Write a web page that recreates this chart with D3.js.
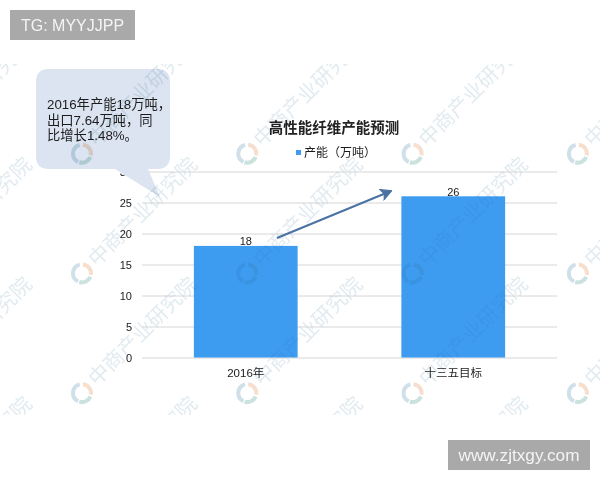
<!DOCTYPE html>
<html>
<head>
<meta charset="utf-8">
<script src="https://cdn.jsdelivr.net/npm/d3@7"></script>
<style>
  html, body { margin: 0; padding: 0; background: #fff; }
  svg { display: block; }
  text { font-family: "Liberation Sans", "Noto Sans CJK SC", sans-serif; }
</style>
</head>
<body>
<div id="chart"></div>
<script>
const categories = ["2016年", "十三五目标"]
const capacity = [18, 26]
const yTicks = [0, 5, 10, 15, 20, 25, 30]
const chartTitle = "高性能纤维产能预测"
const legendLabel = "产能（万吨）"
const calloutLines = ["2016年产能18万吨，", "出口7.64万吨，同", "比增长1.48%。"]
const watermarkLabel = "中商产业研究院"
const tagLabel = "TG: MYYJJPP"
const siteLabel = "www.zjtxgy.com"

const COLORS = {
    BAR: "#3d9bf0",
    GRID: "#d6d6d6",
    TEXT: "#1a1a1a",
    CALLOUT: "#dbe4f0",
    ARROW: "#4a72a3",
    BADGE: "#a9a9a9",
    BADGE_TEXT: "#f4f4f4",
    WATERMARK: "#e2ebf0"
}

const width = 600, height = 480
const margin = {top: 171.5, right: 43, bottom: 122.5, left: 142}
const calloutPath = "M49,69 H157 Q170,69 170,82 V156 Q170,169 157,169 H148 L160,197 L115,169 H49 Q36,169 36,156 V82 Q36,69 49,69 Z"

const svg = d3.select("#chart").append("svg")
    .attr("width", width)
    .attr("height", height)
const defs = svg.append("defs")

const x = d3.scaleBand()
    .domain(categories)
    .range([margin.left, width - margin.right])
    .paddingInner(0.5)
    .paddingOuter(0.25)

const y = d3.scaleLinear()
    .domain([0, 30])
    .range([height - margin.bottom, margin.top])

// clip areas for the watermark
defs.append("clipPath")
    .attr("id", "photo-clip")
    .append("rect")
    .attr("x", 0)
    .attr("y", 64)
    .attr("width", width)
    .attr("height", 351)

defs.append("clipPath")
    .attr("id", "callout-clip")
    .append("path")
    .attr("d", calloutPath)

defs.append("clipPath")
    .attr("id", "bars-clip")
    .selectAll("rect")
    .data(capacity)
    .join("rect")
    .attr("x", (d, i) => x(categories[i]))
    .attr("y", d => y(d))
    .attr("width", x.bandwidth())
    .attr("height", d => y(0) - y(d))

const logoArc = d3.arc().innerRadius(7).outerRadius(11)
const logoParts = [
    {start: -2.7, end: -0.25, color: "#d0e0e9"},
    {start: 0.1, end: 1.75, color: "#f6dfcf"},
    {start: 1.95, end: 3.45, color: "#cbe2de"}
]
const tileCols = d3.range(-1, 4)
const tileRows = d3.range(0, 5)

function drawWatermark(clipId, opacity) {
    const layer = svg.append("g")
        .attr("clip-path", `url(#${clipId})`)
        .style("mix-blend-mode", "multiply")
        .attr("opacity", opacity)
        .style("filter", "blur(0.4px)")

    const mark = layer.selectAll("g")
        .data(d3.cross(tileCols, tileRows))
        .join("g")
        .attr("transform", ([c, r]) => `translate(${82 + c * 165.3},${34 + r * 119.7})`)

    mark.selectAll("path")
        .data(logoParts)
        .join("path")
        .attr("d", d => logoArc({startAngle: d.start, endAngle: d.end}))
        .attr("fill", d => d.color)

    mark.append("text")
        .attr("transform", "translate(15,-6) rotate(-45)")
        .attr("fill", COLORS.WATERMARK)
        .style("font-size", "20.5px")
        .style("font-family", '"Noto Sans CJK SC", sans-serif')
        .text(watermarkLabel)
}

drawWatermark("photo-clip", 1)

// grid lines + y labels
const yAxis = d3.axisLeft(y)
    .tickValues(yTicks)
    .tickSize(-(width - margin.left - margin.right))
    .tickPadding(10)

const yG = svg.append("g")
    .attr("transform", `translate(${margin.left},0)`)
    .call(yAxis)
yG.select(".domain").remove()
yG.selectAll(".tick line").attr("stroke", COLORS.GRID).attr("stroke-width", 1)
yG.selectAll(".tick text")
    .attr("fill", COLORS.TEXT)
    .style("font-size", "11px")
    .style("font-family", '"Liberation Sans", sans-serif')

const xAxis = d3.axisBottom(x).tickSize(0).tickPadding(11)
const xG = svg.append("g")
    .attr("transform", `translate(0,${height - margin.bottom})`)
    .call(xAxis)
xG.select(".domain").remove()
xG.selectAll(".tick text")
    .attr("fill", COLORS.TEXT)
    .style("font-size", "11.5px")
    .style("font-family", '"Liberation Sans", "Noto Sans CJK SC", sans-serif')

// bars
svg.selectAll("rect.bar")
    .data(capacity)
    .join("rect")
    .attr("class", "bar")
    .attr("x", (d, i) => x(categories[i]))
    .attr("y", d => y(d))
    .attr("width", x.bandwidth())
    .attr("height", d => y(0) - y(d))
    .attr("fill", COLORS.BAR)

drawWatermark("bars-clip", 0.45)

svg.selectAll("text.bar-label")
    .data(capacity)
    .join("text")
    .attr("class", "bar-label")
    .attr("x", (d, i) => x(categories[i]) + x.bandwidth() / 2)
    .attr("y", d => y(d) - 0.5)
    .attr("text-anchor", "middle")
    .attr("fill", COLORS.TEXT)
    .style("font-size", "11px")
    .text(d => d)

// title + legend
svg.append("text")
    .attr("x", 334)
    .attr("y", 133)
    .attr("text-anchor", "middle")
    .attr("fill", "#222")
    .style("font-size", "14.5px")
    .style("font-weight", "bold")
    .text(chartTitle)

svg.append("rect")
    .attr("x", 296)
    .attr("y", 150)
    .attr("width", 5)
    .attr("height", 5)
    .attr("fill", COLORS.BAR)

svg.append("text")
    .attr("x", 304)
    .attr("y", 157)
    .attr("fill", COLORS.TEXT)
    .style("font-size", "12px")
    .text(legendLabel)

// trend arrow
defs.append("marker")
    .attr("id", "arrow-head")
    .attr("viewBox", "0 0 10 10")
    .attr("refX", 9)
    .attr("refY", 5)
    .attr("markerUnits", "userSpaceOnUse")
    .attr("markerWidth", 12)
    .attr("markerHeight", 12)
    .attr("orient", "auto")
    .append("path")
    .attr("d", "M1,0.5 L9.5,5 L1,9.5 L3,5 Z")
    .attr("fill", COLORS.ARROW)
    .attr("stroke", COLORS.ARROW)
    .attr("stroke-width", 1)

svg.append("line")
    .attr("x1", 277)
    .attr("y1", 238)
    .attr("x2", 391)
    .attr("y2", 191)
    .attr("stroke", COLORS.ARROW)
    .attr("stroke-width", 2)
    .attr("marker-end", "url(#arrow-head)")

// speech bubble, covers the 30 tick like in the source image
svg.append("path")
    .attr("d", calloutPath)
    .attr("fill", COLORS.CALLOUT)

drawWatermark("callout-clip", 1)

svg.append("g").selectAll("text")
    .data(calloutLines)
    .join("text")
    .attr("x", 47)
    .attr("y", (d, i) => 109 + i * 15.7)
    .attr("fill", "#1c1c1c")
    .style("font-size", "13.3px")
    .text(d => d)

// badges
function badge(bx, by, bw, bh, label, size) {
    svg.append("rect")
        .attr("x", bx)
        .attr("y", by)
        .attr("width", bw)
        .attr("height", bh)
        .attr("fill", COLORS.BADGE)
    svg.append("text")
        .attr("x", bx + bw / 2)
        .attr("y", by + bh / 2)
        .attr("dy", "0.36em")
        .attr("text-anchor", "middle")
        .attr("fill", COLORS.BADGE_TEXT)
        .style("font-size", size + "px")
        .text(label)
}
badge(10, 10, 125, 30, tagLabel, 16)
badge(448, 440, 142, 30, siteLabel, 17.2)
</script>
</body>
</html>
